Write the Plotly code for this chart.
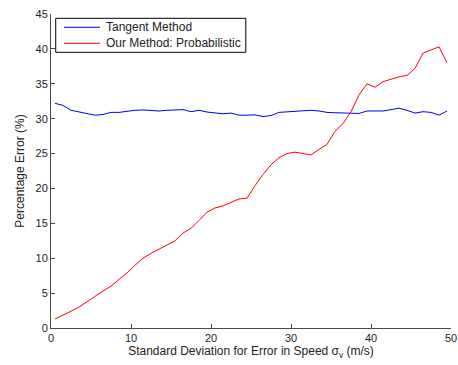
import plotly.graph_objects as go

sigma_v = [i + 0.5 for i in range(50)]

tangent = [32.2, 31.9, 31.2, 31.0, 30.8, 30.5, 30.6, 30.9, 30.9, 31.1,
           31.2, 31.25, 31.2, 31.1, 31.2, 31.2, 31.3, 31.0, 31.2, 30.95,
           30.8, 30.7, 30.8, 30.5, 30.5, 30.55, 30.3, 30.45, 30.9, 31.0,
           31.1, 31.2, 31.2, 31.1, 30.9, 30.85, 30.8, 30.75, 30.75, 31.1,
           31.1, 31.1, 31.3, 31.5, 31.2, 30.8, 31.0, 30.9, 30.5, 31.1]

probabilistic = [1.3, 1.8, 2.4, 3.0, 3.8, 4.6, 5.3, 6.0, 6.9, 7.9,
                 9.0, 10.0, 10.7, 11.3, 12.0, 12.5, 13.6, 14.3, 15.4, 16.6,
                 17.2, 17.5, 18.0, 18.5, 18.6, 20.4, 22.0, 23.4, 24.4, 25.0,
                 25.2, 25.0, 24.8, 25.6, 26.3, 28.2, 29.3, 31.0, 33.4, 35.0,
                 34.5, 35.3, 35.7, 36.0, 36.2, 37.2, 39.4, 39.8, 40.3, 38.0]

series_names = ["Tangent Method", "Our Method: Probabilistic"]
series_colors = ["#0000FF", "#FF0000"]

x_ticks = [0, 10, 20, 30, 40, 50]
y_ticks = [0, 5, 10, 15, 20, 25, 30, 35, 40, 45]

font_family = "Liberation Sans, Arial, Helvetica, sans-serif"

fig = go.Figure()
for name, color, values in zip(series_names, series_colors, [tangent, probabilistic]):
    fig.add_trace(go.Scatter(x=sigma_v, y=values, mode="lines", name=name,
                             line=dict(color=color, width=1), showlegend=False))

axis_common = dict(showgrid=False, zeroline=False, showline=True, linecolor="#4a4a4a",
                   linewidth=1, ticks="inside", ticklen=4, tickcolor="#4a4a4a",
                   tickfont=dict(family=font_family, size=11, color="#222222"),
                   mirror=False)

# legend box (drawn in paper coordinates, MATLAB style)
fig.add_shape(type="rect", xref="paper", yref="paper",
              x0=0.0118, x1=0.487, y0=0.878, y1=0.9863,
              line=dict(color="black", width=1), fillcolor="white", layer="above")
legend_rows = [0.9577, 0.9068]
for name, color, ly in zip(series_names, series_colors, legend_rows):
    fig.add_shape(type="line", xref="paper", yref="paper",
                  x0=0.0325, x1=0.1225, y0=ly, y1=ly,
                  line=dict(color=color, width=1), layer="above")
    fig.add_annotation(x=0.1333, y=ly, xref="paper", yref="paper", text=name,
                       showarrow=False, xanchor="left", yanchor="middle",
                       font=dict(family=font_family, size=12, color="#222222"))

fig.update_layout(
    width=458, height=365,
    margin=dict(l=51, r=7, t=14, b=37, autoexpand=False),
    paper_bgcolor="white", plot_bgcolor="white",
    font=dict(family=font_family, size=12, color="#222222"),
    xaxis=dict(range=[0, 50], tickvals=x_ticks,
               title=dict(text="Standard Deviation for Error in Speed σ<sub>v</sub> (m/s)",
                          standoff=3, font=dict(size=12)),
               **axis_common),
    yaxis=dict(range=[0, 45], tickvals=y_ticks,
               title=dict(text="Percentage Error (%)", standoff=8, font=dict(size=12)),
               **axis_common),
    showlegend=False,
)

fig.write_html(
    "out.html",
    config={"displayModeBar": False},
    post_script="document.body.style.margin='0';document.body.style.overflow='hidden';",
)
